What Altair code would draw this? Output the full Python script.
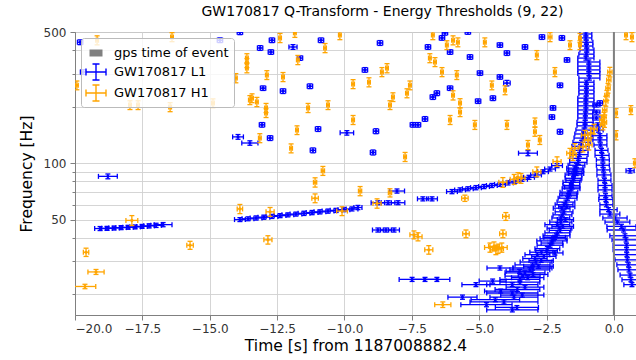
import altair as alt
import pandas as pd

TITLE = "GW170817 Q-Transform - Energy Thresholds (9, 22)"
X_TITLE = "Time [s] from 1187008882.4"
Y_TITLE = "Frequency [Hz]"
X_DOMAIN = [-20, 0.82]
Y_DOMAIN = [15.5, 500]
X_TICKS = [-20, -17.5, -15, -12.5, -10, -7.5, -5, -2.5, 0]
Y_TICKS = [20, 30, 40, 50, 60, 70, 80, 90, 100, 200, 300, 400, 500]
EVENT_TIME = [0.0]
LEGEND_LABELS = ["gps time of event", "GW170817 L1", "GW170817 H1"]
BLUE = "#0000ff"
ORANGE = "#ffa500"
GRAY = "#808080"
FONT = "DejaVu Sans"

# rows: (time s, frequency Hz, time half-width s, frequency half-width Hz)
L1_SCATTER = [
    (-19.81, 441, 0.10, 13), (-19.70, 306, 0.10, 9), (-14.62, 452, 0.10, 13),
    (-13.88, 498, 0.10, 14), (-12.69, 452, 0.10, 13), (-13.13, 411, 0.10, 12),
    (-12.73, 391, 0.10, 11), (-11.91, 416, 0.15, 12), (-11.65, 363, 0.10, 10),
    (-10.87, 452, 0.10, 13), (-8.68, 437, 0.10, 13), (-9.24, 314, 0.10, 9),
    (-13.02, 251, 0.10, 7), (-12.28, 242, 0.10, 7), (-11.28, 257, 0.10, 7.5),
    (-13.06, 160, 0.10, 4.5), (-13.95, 138, 0.20, 4), (-13.51, 128, 0.30, 3.5),
    (-12.76, 136, 0.10, 4), (-10.98, 152, 0.10, 4.5), (-9.91, 145, 0.25, 4),
    (-8.83, 148, 0.10, 4.5), (-11.17, 117, 0.10, 3.5), (-8.94, 114, 0.10, 3.5),
    (-18.78, 85, 0.35, 2.5), (-6.27, 495, 0.10, 14), (-6.38, 465, 0.10, 13),
    (-5.42, 500, 0.10, 14), (-6.90, 416, 0.10, 12), (-6.08, 391, 0.10, 11),
    (-5.34, 368, 0.10, 10.5), (-4.23, 426, 0.10, 12), (-3.97, 386, 0.10, 11),
    (-3.30, 416, 0.10, 12), (-2.67, 470, 0.10, 13.5), (-1.93, 465, 0.10, 13.5),
    (-4.97, 302, 0.10, 8.5), (-4.23, 288, 0.10, 8), (-3.97, 267, 0.12, 9),
    (-6.08, 251, 0.10, 7), (-6.72, 225, 0.10, 6.5), (-6.57, 236, 0.10, 7),
    (-5.04, 214, 0.10, 6), (-4.49, 222, 0.10, 6.5), (-7.01, 172, 0.10, 5),
    (-7.46, 160, 0.10, 4.5), (-7.27, 160, 0.10, 4.5), (-2.00, 260, 0.10, 7.5),
    (-1.74, 355, 0.10, 10), (-2.26, 197, 0.10, 5.5), (-2.30, 176, 0.10, 5),
    (-2.00, 147, 0.10, 4.5), (-3.19, 113, 0.35, 3.5), (-0.52, 209, 0.10, 6),
    (0.60, 91, 0.15, 2.5),
]

L1_TRACK = [
    (-19.07, 44.8, 0.20, 1.1), (-18.81, 44.9, 0.20, 1.1), (-18.55, 45.1, 0.20, 1.1),
    (-18.29, 45.3, 0.20, 1.1), (-18.03, 45.5, 0.20, 1.1), (-17.77, 45.7, 0.20, 1.1),
    (-17.51, 46.0, 0.20, 1.1), (-17.25, 46.3, 0.20, 1.2), (-16.99, 46.6, 0.20, 1.2),
    (-16.73, 47.0, 0.33, 1.2),
    (-13.88, 50.0, 0.20, 1.2), (-13.58, 50.5, 0.22, 1.2), (-13.28, 51.0, 0.22, 1.3),
    (-12.99, 51.5, 0.22, 1.3), (-12.69, 52.0, 0.22, 1.3), (-12.39, 52.5, 0.22, 1.3),
    (-12.10, 53.0, 0.22, 1.3), (-11.80, 53.5, 0.22, 1.3), (-11.50, 54.0, 0.22, 1.4),
    (-11.20, 54.5, 0.22, 1.4), (-10.91, 55.0, 0.22, 1.4), (-10.61, 55.5, 0.22, 1.4),
    (-10.31, 56.0, 0.22, 1.4), (-10.02, 56.5, 0.22, 1.4), (-9.72, 57.0, 0.22, 1.4),
    (-9.50, 58.0, 0.15, 1.5),
    (-8.76, 61.5, 0.25, 1.5), (-8.38, 61.5, 0.25, 1.5), (-8.01, 61.5, 0.25, 1.5),
    (-8.05, 71.0, 0.28, 1.8), (-8.76, 44.0, 0.20, 1.1), (-8.46, 44.0, 0.20, 1.1),
    (-8.16, 44.0, 0.20, 1.1), (-7.09, 64.5, 0.20, 1.6), (-6.75, 64.5, 0.20, 1.6),
    (-6.01, 70.5, 0.20, 1.8), (-5.71, 72.0, 0.20, 1.8), (-5.42, 73.0, 0.20, 1.8),
    (-5.12, 74.0, 0.20, 1.9), (-4.82, 75.0, 0.20, 1.9), (-4.53, 76.0, 0.20, 1.9),
    (-4.23, 77.0, 0.20, 1.9), (-3.93, 78.5, 0.20, 2.0),
    (-3.67, 80.0, 0.20, 2.0), (-3.41, 82.0, 0.20, 2.0), (-3.15, 84.0, 0.20, 2.1),
    (-2.89, 86.5, 0.20, 2.2), (-2.63, 90.0, 0.20, 2.2), (-2.37, 93.0, 0.20, 2.3),
    (-2.11, 97.0, 0.20, 2.4),
]

L1_LOW = [
    (-3.77, 16.5, 0.95, 0.4), (-4.73, 17.6, 0.95, 0.45), (-4.08, 18.2, 1.26, 0.45),
    (-5.62, 19.3, 0.54, 0.5), (-3.71, 19.3, 0.89, 0.5), (-3.77, 20.3, 0.95, 0.5),
    (-3.58, 21.2, 0.83, 0.55), (-5.12, 22.5, 0.52, 0.55), (-3.77, 22.5, 0.95, 0.55),
    (-3.49, 23.2, 0.74, 0.6), (-3.49, 24.0, 0.74, 0.6), (-7.49, 24.0, 0.48, 0.6),
    (-7.01, 24.0, 0.48, 0.6), (-6.57, 24.0, 0.48, 0.6), (-3.39, 25.0, 0.65, 0.6),
    (-3.30, 26.0, 0.74, 0.65), (-3.12, 27.0, 0.74, 0.7), (-4.23, 27.6, 0.48, 0.7),
    (-3.02, 27.6, 0.72, 0.7), (-3.02, 28.7, 0.65, 0.7), (-2.89, 29.7, 0.59, 0.75),
    (-2.93, 31.0, 0.45, 0.8), (-2.84, 32.5, 0.46, 0.8), (-2.69, 33.5, 0.43, 0.85),
    (-2.19, 33.2, 0.30, 0.85), (-2.47, 35.0, 0.46, 0.9), (-2.37, 36.5, 0.48, 0.9),
    (-2.30, 38.5, 0.56, 1.0), (-2.24, 39.5, 0.50, 1.0), (-2.13, 41.0, 0.50, 1.0),
    (-2.10, 42.5, 0.46, 1.1), (-2.02, 45.0, 0.46, 1.1), (-2.10, 47.0, 0.46, 1.2),
    (-1.97, 48.5, 0.41, 1.2), (-1.97, 51.0, 0.33, 1.3), (-1.91, 53.0, 0.35, 1.3),
    (-1.85, 55.0, 0.33, 1.4), (-1.94, 57.5, 0.31, 1.4), (-1.85, 60.0, 0.33, 1.5),
    (-1.78, 62.0, 0.33, 1.5), (-1.72, 65.0, 0.35, 1.6), (-1.69, 67.0, 0.32, 1.7),
    (-1.67, 70.0, 0.33, 1.7), (-1.59, 73.0, 0.33, 1.8), (-1.58, 76.0, 0.31, 1.9),
    (-1.58, 79.0, 0.31, 2.0), (-1.50, 83.0, 0.31, 2.1), (-1.50, 86.5, 0.31, 2.2),
    (-1.46, 90.0, 0.28, 2.2), (-1.45, 94.0, 0.30, 2.3), (-1.39, 97.4, 0.31, 2.4),
    (-3.60, 17.0, 0.80, 0.4), (-4.40, 18.7, 0.90, 0.45), (-3.40, 19.8, 0.80, 0.5),
    (-4.20, 20.8, 0.60, 0.5), (-3.30, 21.8, 0.70, 0.55), (-4.50, 23.5, 0.50, 0.6),
    (-3.20, 24.5, 0.60, 0.6), (-3.00, 25.5, 0.55, 0.6), (-3.50, 26.5, 0.50, 0.65),
    (-2.80, 28.2, 0.55, 0.7), (-2.70, 30.3, 0.45, 0.75), (-2.60, 31.8, 0.45, 0.8),
    (-2.50, 34.2, 0.40, 0.85), (-2.30, 37.5, 0.40, 0.9), (-2.20, 40.2, 0.40, 1.0),
    (-2.00, 43.8, 0.40, 1.1), (-1.90, 46.0, 0.40, 1.1), (-1.80, 50.0, 0.30, 1.2),
    (-1.75, 58.5, 0.30, 1.4), (-1.65, 68.5, 0.28, 1.7), (-1.55, 74.5, 0.28, 1.8),
    (-1.50, 81.0, 0.28, 2.0), (-1.40, 88.0, 0.28, 2.2), (-1.40, 92.0, 0.28, 2.2),
]

L1_UPPER = [
    (-1.32, 101, 0.32, 2.5), (-1.32, 106, 0.32, 2.6), (-1.28, 111, 0.32, 2.8),
    (-1.26, 117, 0.30, 2.9), (-1.24, 123, 0.32, 3.1), (-1.20, 129, 0.32, 3.2),
    (-1.15, 136, 0.33, 3.4), (-1.13, 143, 0.32, 3.6), (-1.11, 150, 0.30, 3.8),
    (-1.07, 158, 0.30, 4.0), (-1.07, 165, 0.30, 4.1), (-1.06, 174, 0.28, 4.3),
    (-1.06, 183, 0.28, 4.6), (-1.04, 192, 0.30, 4.8), (-1.04, 202, 0.30, 5.0),
    (-1.04, 212, 0.30, 5.3), (-1.04, 222, 0.30, 5.5), (-1.02, 234, 0.28, 5.8),
    (-1.02, 245, 0.28, 6.1), (-1.02, 257, 0.28, 6.4), (-1.02, 270, 0.28, 6.7),
    (-0.91, 284, 0.39, 7.1), (-0.93, 300, 0.41, 7.5), (-0.93, 314, 0.41, 7.8),
    (-0.93, 329, 0.41, 8.2), (-0.93, 346, 0.41, 8.6), (-1.04, 363, 0.30, 9.0),
    (-1.02, 381, 0.28, 9.5), (-1.00, 401, 0.26, 10), (-1.02, 421, 0.24, 10.5),
    (-1.02, 441, 0.24, 11), (-1.04, 465, 0.22, 11.5), (-1.04, 488, 0.22, 12),
]

L1_POST = [
    (-0.65, 204, 0.13, 5), (-0.65, 187, 0.13, 4.7), (-0.65, 174, 0.13, 4.3),
    (-0.60, 160, 0.15, 4), (-0.58, 150, 0.18, 3.8), (-0.52, 140, 0.26, 3.5),
    (-0.52, 133, 0.26, 3.3), (-0.50, 125, 0.24, 3.1), (-0.46, 117, 0.24, 2.9),
    (-0.44, 110, 0.26, 2.8), (-0.41, 104, 0.24, 2.6), (-0.41, 97.4, 0.24, 2.4),
    (-0.39, 92, 0.24, 2.3), (-0.37, 86.5, 0.26, 2.2), (-0.35, 81, 0.24, 2.0),
    (-0.33, 76, 0.26, 1.9), (-0.33, 72, 0.26, 1.8), (-0.31, 67, 0.24, 1.7),
    (-0.30, 64, 0.26, 1.6), (-0.28, 60, 0.24, 1.5), (-0.20, 56.5, 0.32, 1.4),
    (-0.15, 53.5, 0.37, 1.3), (0.04, 51, 0.45, 1.3), (0.13, 48.5, 0.46, 1.2),
    (0.28, 46, 0.54, 1.2), (0.36, 44, 0.61, 1.1), (0.41, 41, 0.56, 1.0),
    (0.45, 39, 0.52, 1.0), (0.47, 36.5, 0.50, 0.9), (0.47, 34.5, 0.50, 0.9),
    (0.48, 32.5, 0.48, 0.8), (0.50, 30.5, 0.46, 0.8), (0.54, 28.7, 0.43, 0.7),
    (0.56, 27, 0.41, 0.7), (0.60, 25.3, 0.37, 0.6), (0.63, 23.9, 0.33, 0.6),
    (0.67, 22.5, 0.30, 0.55),
]

H1_UPPER = [
    (-19.18, 452, 0.05, 25), (-19.93, 260, 0.05, 14), (-16.40, 470, 0.05, 26),
    (-17.96, 204, 0.05, 11), (-17.66, 204, 0.05, 11), (-16.47, 199, 0.05, 11),
    (-14.88, 209, 0.05, 11), (-13.62, 363, 0.05, 20), (-13.62, 342, 0.05, 19),
    (-13.62, 321, 0.05, 18), (-14.03, 284, 0.05, 16), (-13.43, 222, 0.05, 12),
    (-12.88, 295, 0.05, 16), (-12.28, 288, 0.05, 16), (-12.39, 465, 0.05, 26),
    (-11.84, 495, 0.05, 27), (-11.73, 355, 0.05, 20), (-10.72, 411, 0.05, 23),
    (-10.17, 482, 0.05, 27), (-13.51, 217, 0.05, 12), (-13.25, 212, 0.05, 12),
    (-12.91, 197, 0.05, 11), (-12.91, 185, 0.05, 10), (-11.35, 197, 0.05, 11),
    (-10.61, 204, 0.05, 11), (-11.76, 150, 0.05, 8), (-13.14, 136, 0.05, 7.5),
    (-11.98, 120, 0.05, 6.6), (-9.68, 264, 0.05, 14.5), (-9.09, 270, 0.05, 15),
    (-9.68, 170, 0.05, 9.4), (-8.61, 306, 0.05, 17), (-8.42, 321, 0.05, 18),
    (-8.31, 204, 0.05, 11), (-6.72, 482, 0.05, 27), (-6.20, 426, 0.05, 23),
    (-5.97, 452, 0.05, 25), (-5.79, 441, 0.05, 24), (-4.79, 441, 0.05, 24),
    (-6.83, 363, 0.05, 20), (-6.64, 346, 0.05, 19), (-6.38, 306, 0.05, 17),
    (-5.83, 295, 0.05, 16), (-7.57, 260, 0.05, 14), (-7.68, 236, 0.05, 13),
    (-8.20, 225, 0.05, 12), (-5.97, 230, 0.05, 13), (-5.71, 209, 0.05, 11.5),
    (-5.71, 187, 0.05, 10), (-6.08, 170, 0.05, 9.4), (-5.16, 160, 0.05, 8.8),
    (-3.97, 160, 0.05, 8.8), (-4.53, 260, 0.05, 14), (-4.04, 245, 0.05, 13.5),
    (-2.86, 377, 0.05, 21), (-2.37, 470, 0.07, 26), (-1.63, 426, 0.05, 23),
    (-1.26, 465, 0.05, 26), (-1.26, 426, 0.05, 23), (-2.19, 306, 0.05, 17),
    (-2.93, 165, 0.05, 9), (-2.93, 147, 0.05, 8), (-2.75, 133, 0.05, 7.3),
    (-3.19, 125, 0.05, 7), (-7.75, 108, 0.05, 6), (0.08, 185, 0.05, 10),
    (0.08, 141, 0.05, 8), (0.45, 482, 0.05, 27), (0.67, 470, 0.05, 26),
    (0.63, 192, 0.05, 10.5), (0.78, 100, 0.05, 5.5),
]

H1_MERGER = [
    (-0.15, 306, 0.08, 18), (-0.19, 277, 0.08, 16), (-0.22, 251, 0.08, 15),
    (-0.26, 230, 0.08, 14), (-0.30, 214, 0.08, 13), (-0.34, 192, 0.08, 11.5),
    (-0.37, 176, 0.08, 10.5), (-0.41, 160, 0.08, 9.6), (-0.45, 170, 0.08, 10),
    (-0.35, 165, 0.08, 10),
    (-1.08, 141, 0.12, 8.5), (-0.97, 133, 0.12, 8), (-0.86, 145, 0.12, 8.7),
    (-0.74, 152, 0.12, 9), (-0.93, 125, 0.12, 7.5), (-1.15, 122, 0.12, 7.3),
    (-1.45, 120, 0.12, 7), (-1.63, 113, 0.12, 6.8), (-1.52, 110, 0.12, 6.6),
    (-2.11, 102, 0.15, 6), (-2.86, 90, 0.15, 5.4), (-3.56, 84, 0.15, 5),
    (-4.12, 79, 0.15, 4.7), (-3.45, 83, 0.15, 5), (-3.70, 82, 0.15, 5),
]

H1_LOW = [
    (-17.89, 49.5, 0.22, 3), (-19.59, 33.5, 0.10, 1.7), (-19.22, 26.3, 0.30, 0.8),
    (-19.63, 22.0, 0.40, 0.6), (-15.73, 36.5, 0.12, 1.8), (-13.88, 57.0, 0.10, 3.2),
    (-12.76, 55.0, 0.15, 3), (-12.84, 39.0, 0.15, 2), (-11.09, 79.0, 0.06, 4.5),
    (-11.09, 65.0, 0.12, 3.5), (-10.80, 91.0, 0.06, 5), (-10.09, 55.5, 0.20, 3),
    (-9.42, 71.0, 0.06, 4), (-8.79, 61.0, 0.15, 3.5), (-8.31, 69.5, 0.06, 3.5),
    (-5.53, 65.0, 0.12, 2.5), (-4.01, 52.0, 0.12, 2.5), (-7.42, 41.5, 0.15, 2),
    (-7.27, 40.5, 0.15, 2), (-5.49, 42.0, 0.12, 2), (-4.12, 42.0, 0.12, 2),
    (-6.87, 34.5, 0.15, 1.8), (-4.60, 35.5, 0.20, 2), (-4.45, 36.0, 0.20, 2),
    (-4.30, 35.0, 0.20, 2), (-4.16, 35.5, 0.20, 2), (-4.38, 34.5, 0.20, 2),
    (-6.35, 17.6, 0.30, 0.6),
]

COLS = ["t", "f", "dt", "df"]
l1 = pd.DataFrame(L1_SCATTER + L1_TRACK + L1_LOW + L1_UPPER + L1_POST, columns=COLS)
h1 = pd.DataFrame(H1_UPPER + H1_MERGER + H1_LOW, columns=COLS)

xs = alt.Scale(domain=X_DOMAIN, nice=False, zero=False)
ys = alt.Scale(type="log", domain=Y_DOMAIN, nice=False)
xa = alt.Axis(values=X_TICKS, format=".1f", tickSize=5, labelPadding=3, titlePadding=4)
ya = alt.Axis(
    values=Y_TICKS, format="d",
    labelExpr="(datum.value == 50 || datum.value == 100 || datum.value == 500) ? datum.label : ''",
    tickSize={"condition": {"test": "datum.value == 50 || datum.value == 100 || datum.value == 500",
                            "value": 5}, "value": 3},
    labelPadding=4, titlePadding=9,
)


def X(field):
    return alt.X(field, type="quantitative", scale=xs, axis=xa, title=X_TITLE)


def Y(field):
    return alt.Y(field, type="quantitative", scale=ys, axis=ya, title=Y_TITLE)


def errorbars(df, color):
    base = alt.Chart(df).transform_calculate(
        t0="datum.t - datum.dt", t1="datum.t + datum.dt",
        f0="datum.f - datum.df", f1="datum.f + datum.df",
    )
    hbar = base.mark_rule(color=color, strokeWidth=1.3, clip=True).encode(
        x=X("t0"), x2="t1", y=Y("f"))
    vbar = base.mark_rule(color=color, strokeWidth=1.3, clip=True).encode(
        x=X("t"), y=Y("f0"), y2="f1")
    hcap = base.transform_fold(["t0", "t1"], as_=["k", "tc"]).mark_tick(
        orient="vertical", size=5, thickness=1.3, color=color, opacity=1, clip=True
    ).encode(x=X("tc"), y=Y("f"))
    vcap = base.transform_fold(["f0", "f1"], as_=["k", "fc"]).mark_tick(
        orient="horizontal", size=5, thickness=1.3, color=color, opacity=1, clip=True
    ).encode(x=X("t"), y=Y("fc"))
    dot = base.mark_circle(size=10, color=color, opacity=1, clip=True).encode(
        x=X("t"), y=Y("f"))
    return [hbar, vbar, hcap, vcap, dot]


event = alt.Chart(pd.DataFrame({"t": EVENT_TIME})).mark_rule(
    color=GRAY, strokeWidth=2).encode(x=X("t"))

RECT = "M-0.65,-0.35H0.65V0.35H-0.65Z"
EB = ("M-1,-0.07H1V0.07H-1Z"
      "M-0.07,-0.8H0.07V0.8H-0.07Z"
      "M-1.07,-0.35H-0.93V0.35H-1.07Z"
      "M0.93,-0.35H1.07V0.35H0.93Z"
      "M-0.35,-0.87H0.35V-0.73H-0.35Z"
      "M-0.35,0.73H0.35V0.87H-0.35Z")

leg = alt.Legend(
    title=None, orient="top-left", offset=6, padding=5,
    fillColor="rgba(255,255,255,0.8)", strokeColor="#bbbbbb", cornerRadius=3,
    labelFont=FONT, labelFontSize=13, labelColor="black", labelOffset=8,
    symbolSize=400, symbolStrokeWidth=0, rowPadding=2,
)
legend_layer = alt.Chart(pd.DataFrame({"label": LEGEND_LABELS})).transform_filter(
    "false").mark_point(filled=True, opacity=1).encode(
    color=alt.Color("label:N", scale=alt.Scale(domain=LEGEND_LABELS, range=[GRAY, BLUE, ORANGE]),
                    legend=leg),
    shape=alt.Shape("label:N", scale=alt.Scale(domain=LEGEND_LABELS, range=[RECT, EB, EB]),
                    legend=leg),
)

layers = errorbars(l1, BLUE) + errorbars(h1, ORANGE) + [event, legend_layer]

chart = alt.layer(*layers).properties(
    width=561, height=283,
    title=alt.Title(TITLE, anchor="middle", frame="group", dx=27, fontSize=14, font=FONT,
                    fontWeight="normal", color="black", offset=7),
    autosize=alt.AutoSizeParams(type="none"),
    padding={"left": 75, "top": 32, "right": 0, "bottom": 45},
).configure_view(stroke=GRAY, strokeWidth=1).configure_axis(
    grid=True, gridColor="#d0d0d0", gridWidth=0.9,
    domainColor=GRAY, tickColor=GRAY,
    labelFont=FONT, labelFontSize=12, labelColor="#333333",
    titleFont=FONT, titleFontSize=15.5, titleFontWeight="normal", titleColor="black",
)

chart.save("out.html", embed_options={"renderer": "svg", "actions": False})
